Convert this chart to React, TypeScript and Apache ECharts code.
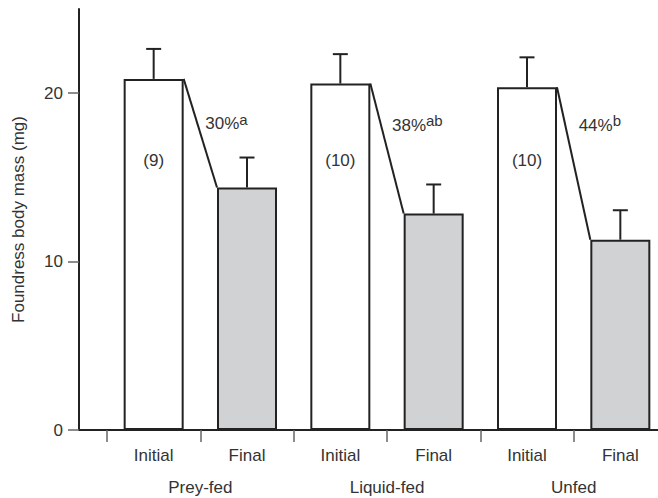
import React, { useEffect, useRef } from "react";
import * as echarts from "echarts";

const groups = ["Prey-fed", "Liquid-fed", "Unfed"];
const phases = ["Initial", "Final"];
const initialMass = [20.85, 20.57, 20.35];
const finalMass = [14.4, 12.85, 11.3];
const initialSE = [1.78, 1.75, 1.78];
const finalSE = [1.78, 1.73, 1.75];
const sampleSizes = ["(9)", "(10)", "(10)"];
const lossPct = ["30%", "38%", "44%"];
const lossLetters = ["a", "ab", "b"];
const yTicks = [0, 10, 20];
const yMax = 25;
const nLabelY = 16;
const pctLabelY = [18.2, 18.1, 18.1];

const FONT = "'Liberation Sans', Arial, Helvetica, sans-serif";
const INK = "#222";
const TXT = "#333";
const FINAL_FILL = "#d1d2d4";
const BAR_W = 60;

export default function App() {
  const ref = useRef<HTMLDivElement>(null);
  useEffect(() => {
    if (!ref.current) return;
    const chart = echarts.init(ref.current, null, { renderer: "svg" });

    const categories = groups.flatMap(() => phases);
    const barData = groups.flatMap((_, g) => [
      { value: initialMass[g], itemStyle: { color: "#ffffff" } },
      { value: finalMass[g], itemStyle: { color: FINAL_FILL } },
    ]);
    const errData = groups.flatMap((_, g) => [
      [2 * g, initialMass[g], initialMass[g] + initialSE[g]],
      [2 * g + 1, finalMass[g], finalMass[g] + finalSE[g]],
    ]);
    const connData = groups.map((_, g) => [2 * g, initialMass[g], finalMass[g]]);
    const nData = groups.map((_, g) => [2 * g, nLabelY, g]);
    const pctData = groups.map((_, g) => [2 * g, pctLabelY[g], g]);

    const option: any = {
      animation: false,
      grid: { left: 107, right: 0, top: 9, bottom: 68 },
      xAxis: [
        {
          type: "category",
          data: categories,
          axisLine: { show: true, lineStyle: { color: INK, width: 2 } },
          axisTick: { show: true, length: 12, interval: 0, lineStyle: { color: "#666", width: 1.5 } },
          axisLabel: { interval: 0, margin: 17, fontSize: 17, color: TXT, fontFamily: FONT },
          splitLine: { show: false },
        },
        {
          type: "category",
          position: "bottom",
          data: groups,
          axisLine: { show: false },
          axisTick: { show: false },
          axisLabel: { interval: 0, margin: 49, fontSize: 17, color: TXT, fontFamily: FONT },
          splitLine: { show: false },
        },
      ],
      yAxis: {
        type: "value",
        min: 0,
        max: yMax,
        interval: 10,
        offset: 28,
        name: "Foundress body mass (mg)",
        nameLocation: "middle",
        nameGap: 52,
        nameTextStyle: { fontSize: 17, color: TXT, fontFamily: FONT },
        axisLine: { show: true, lineStyle: { color: INK, width: 2 } },
        axisTick: { show: true, length: 11, customValues: yTicks, lineStyle: { color: "#666", width: 1.5 } },
        axisLabel: { customValues: yTicks, margin: 16, fontSize: 17, color: TXT, fontFamily: FONT },
        splitLine: { show: false },
      },
      graphic: [
        {
          type: "line",
          shape: { x1: 79, y1: 430, x2: 108, y2: 430 },
          style: { stroke: INK, lineWidth: 2 },
        },
      ],
      series: [
        {
          type: "bar",
          data: barData,
          barWidth: BAR_W,
          itemStyle: { borderColor: INK, borderWidth: 2 },
          z: 2,
        },
        {
          type: "custom",
          data: connData,
          z: 3,
          renderItem: (_p: any, api: any) => {
            const a = api.coord([api.value(0), api.value(1)]);
            const b = api.coord([api.value(0) + 1, api.value(2)]);
            return {
              type: "line",
              shape: { x1: a[0] + BAR_W / 2, y1: a[1], x2: b[0] - BAR_W / 2, y2: b[1] },
              style: { stroke: INK, lineWidth: 2 },
            };
          },
        },
        {
          type: "custom",
          data: errData,
          z: 3,
          renderItem: (_p: any, api: any) => {
            const base = api.coord([api.value(0), api.value(1)]);
            const top = api.coord([api.value(0), api.value(2)]);
            return {
              type: "group",
              children: [
                { type: "line", shape: { x1: base[0], y1: base[1], x2: top[0], y2: top[1] }, style: { stroke: INK, lineWidth: 2 } },
                { type: "line", shape: { x1: top[0] - 7.5, y1: top[1], x2: top[0] + 7.5, y2: top[1] }, style: { stroke: INK, lineWidth: 2 } },
              ],
            };
          },
        },
        {
          type: "custom",
          data: nData,
          z: 4,
          renderItem: (_p: any, api: any) => {
            const p = api.coord([api.value(0), api.value(1)]);
            return {
              type: "text",
              x: p[0],
              y: p[1],
              style: {
                text: sampleSizes[api.value(2)],
                align: "center",
                verticalAlign: "middle",
                fontSize: 17,
                fontFamily: FONT,
                fill: TXT,
              },
            };
          },
        },
        {
          type: "custom",
          data: pctData,
          z: 4,
          renderItem: (_p: any, api: any) => {
            const g = api.value(2);
            const a = api.coord([api.value(0), api.value(1)]);
            const b = api.coord([api.value(0) + 1, api.value(1)]);
            return {
              type: "text",
              x: (a[0] + b[0]) / 2 + 5,
              y: a[1],
              style: {
                text: `{n|${lossPct[g]}}{s|${lossLetters[g]}}`,
                align: "left",
                verticalAlign: "middle",
                fontFamily: FONT,
                fill: TXT,
                rich: {
                  n: { fontSize: 17, lineHeight: 24, fill: TXT, fontFamily: FONT },
                  s: { fontSize: 15, lineHeight: 8, verticalAlign: "top", fill: TXT, fontFamily: FONT },
                },
              },
            };
          },
        },
      ],
    };
    chart.setOption(option);
    return () => chart.dispose();
  }, []);
  return (
    <div
      ref={ref}
      style={{ position: "fixed", left: 0, top: 0, width: 667, height: 498, background: "#fff" }}
    />
  );
}
